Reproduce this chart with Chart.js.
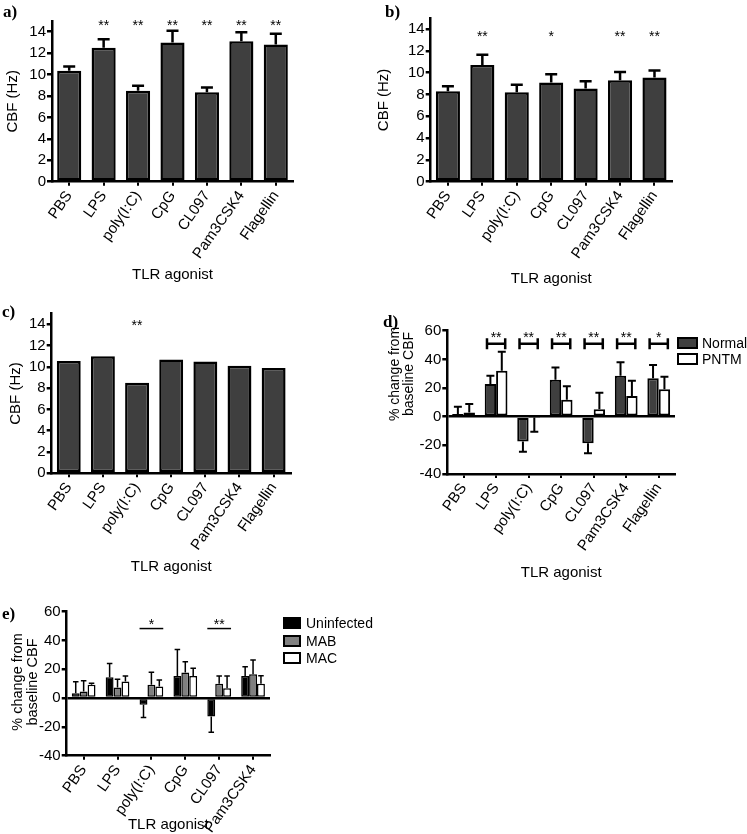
<!DOCTYPE html>
<html>
<head>
<meta charset="utf-8">
<script src="https://cdn.jsdelivr.net/npm/chart.js@4.4.0/dist/chart.umd.min.js"></script>
<style>
body{margin:0;background:#fff;}
#page{position:relative;width:747px;height:834px;overflow:hidden;background:#fff;font-family:'Liberation Sans',Arial,sans-serif;color:#000}
canvas{position:absolute}
.tag{position:absolute;font-family:'Liberation Serif','Times New Roman',serif;font-weight:bold;font-size:17px;line-height:17px}
.ytitle{position:absolute;transform:translate(-50%,-50%) rotate(-90deg);white-space:nowrap;text-align:center;font-size:14px}
.key{position:absolute;box-sizing:border-box;border:2px solid #000}
.keytxt{position:absolute;font-size:14px;line-height:14px;transform:translateY(-50%)}
</style>
</head>
<body>
<div id="page">
  <canvas id="chartA" width="370" height="290" style="left:0;top:0"></canvas>
  <canvas id="chartB" width="377" height="300" style="left:370px;top:0"></canvas>
  <canvas id="chartC" width="370" height="300" style="left:0;top:290px"></canvas>
  <canvas id="chartD" width="377" height="300" style="left:370px;top:290px"></canvas>
  <canvas id="chartE" width="300" height="260" style="left:0;top:580px"></canvas>

  <div class="tag" style="left:3px;top:3px">a)</div>
  <div class="tag" style="left:385px;top:3px">b)</div>
  <div class="tag" style="left:2px;top:303px">c)</div>
  <div class="tag" style="left:383px;top:313px">d)</div>
  <div class="tag" style="left:2px;top:605px">e)</div>

  <div class="ytitle" style="left:401px;top:374px;line-height:13.5px">% change from<br>baseline CBF</div>
  <div class="ytitle" style="left:25px;top:682px;line-height:15px;font-size:14.5px">% change from<br>baseline CBF</div>

  <!-- legende d -->
  <div class="key" style="left:677px;top:337px;width:21px;height:12px;background:#3f3f3f"></div>
  <div class="keytxt" style="left:702px;top:343px">Normal</div>
  <div class="key" style="left:677px;top:353px;width:21px;height:12px;background:#fff"></div>
  <div class="keytxt" style="left:702px;top:359px">PNTM</div>

  <!-- legende e -->
  <div class="key" style="left:283px;top:617px;width:18px;height:12px;background:#000"></div>
  <div class="keytxt" style="left:306px;top:623px">Uninfected</div>
  <div class="key" style="left:283px;top:635px;width:18px;height:12px;background:#808080"></div>
  <div class="keytxt" style="left:306px;top:641px">MAB</div>
  <div class="key" style="left:283px;top:652px;width:18px;height:12px;background:#fff"></div>
  <div class="keytxt" style="left:306px;top:658px">MAC</div>
</div>
<script>
// dados
const agonists = ['PBS','LPS','poly(I:C)','CpG','CL097','Pam3CSK4','Flagellin'];
const agonistsE = ['PBS','LPS','poly(I:C)','CpG','CL097','Pam3CSK4'];

const cbfA = [10.35, 12.5, 8.5, 13.0, 8.35, 13.1, 12.8];
const errA = [0.4, 0.8, 0.45, 1.1, 0.45, 0.85, 1.0];
const sigA = ['', '**', '**', '**', '**', '**', '**'];

const cbfB = [8.3, 10.7, 8.2, 9.1, 8.55, 9.3, 9.55];
const errB = [0.45, 0.95, 0.7, 0.75, 0.65, 0.75, 0.65];
const sigB = ['', '**', '', '*', '', '**', '**'];

const cbfC = [10.55, 11.0, 8.5, 10.7, 10.5, 10.1, 9.9];
const sigC = ['', '', '**', '', '', '', ''];

const normalD = [1.9, 22.8, -17.4, 25.7, -18.6, 28.6, 26.8];
const normalErrD = [5.1, 5.8, 7.0, 8.7, 7.0, 9.4, 9.3];
const pntmD = [3.0, 32.0, -0.5, 11.9, 5.1, 14.4, 19.1];
const pntmErrD = [5.8, 13.3, 10.0, 9.3, 11.6, 10.7, 8.8];
const sigD = ['', '**', '**', '**', '**', '**', '*'];

const uninfE = [3.4, 14.5, -4.6, 15.4, -12.7, 15.4];
const uninfErrE = [8.0, 9.6, 8.8, 18.4, 11.0, 6.4];
const mabE = [4.6, 7.3, 9.2, 17.7, 9.9, 16.6];
const mabErrE = [7.5, 5.8, 8.7, 7.6, 5.5, 9.8];
const macE = [9.2, 11.5, 8.0, 15.4, 6.9, 10.0];
const macErrE = [1.1, 3.9, 4.6, 5.3, 8.5, 5.5];
const sigE = ['', '', '*', '', '**', ''];

const FONT = "'Liberation Sans', Arial, Helvetica, sans-serif";
Chart.defaults.font.family = FONT;
Chart.defaults.color = '#000';

// barras de erro (só para cima, ou para baixo se o valor for negativo)
const errorBars = {
  id: 'errorBars',
  afterDatasetsDraw(chart){
    const ctx = chart.ctx, y = chart.scales.y;
    chart.data.datasets.forEach((ds, di) => {
      if(!ds.errors) return;
      const meta = chart.getDatasetMeta(di);
      meta.data.forEach((bar, i) => {
        const v = ds.data[i], e = ds.errors[i];
        if(!e) return;
        const y0 = y.getPixelForValue(v);
        const y1 = y.getPixelForValue(v < 0 ? v - e : v + e);
        const half = Math.min(6, bar.width * 0.35);
        ctx.save();
        ctx.strokeStyle = '#000';
        ctx.lineWidth = ds.errorWidth || 2.5;
        ctx.beginPath();
        ctx.moveTo(bar.x, y0); ctx.lineTo(bar.x, y1);
        ctx.moveTo(bar.x - half, y1); ctx.lineTo(bar.x + half, y1);
        ctx.stroke();
        ctx.restore();
      });
    });
  }
};

// asteriscos + colchetes/linhas
const sigMarks = {
  id: 'sig',
  afterDatasetsDraw(chart, args, opts){
    if(!opts.labels) return;
    const ctx = chart.ctx, y = chart.scales.y;
    const first = chart.getDatasetMeta(0);
    const last = chart.getDatasetMeta(chart.data.datasets.length - 1);
    opts.labels.forEach((txt, i) => {
      if(!txt) return;
      const a = first.data[i], b = last.data[i];
      const x = (a.x + b.x) / 2;
      ctx.save();
      ctx.fillStyle = '#000';
      ctx.font = '14px ' + FONT;
      ctx.textAlign = 'center';
      ctx.textBaseline = 'middle';
      ctx.fillText(txt, x, y.getPixelForValue(opts.level));
      if(opts.mark){
        const k = opts.mark === 'bracket' ? 0.3 : 0.5;
        const x0 = a.x - a.width * k, x1 = b.x + b.width * k;
        const ly = y.getPixelForValue(opts.markLevel);
        ctx.strokeStyle = '#000';
        ctx.lineWidth = opts.mark === 'bracket' ? 2.5 : 1.5;
        ctx.beginPath();
        ctx.moveTo(x0, ly); ctx.lineTo(x1, ly);
        if(opts.mark === 'bracket'){
          ctx.moveTo(x0, ly - 5.5); ctx.lineTo(x0, ly + 5.5);
          ctx.moveTo(x1, ly - 5.5); ctx.lineTo(x1, ly + 5.5);
        }
        ctx.stroke();
      }
      ctx.restore();
    });
  }
};

function makePanel(id, p){
  const yGrid = p.zeroLine
    ? {drawOnChartArea:true, color:c => (c.tick && c.tick.value === 0) ? '#000' : 'rgba(0,0,0,0)', tickColor:'#000', lineWidth:2.5, tickLength:5}
    : {drawOnChartArea:false, color:'#000', lineWidth:2.5, tickLength:5};
  return new Chart(document.getElementById(id), {
    type:'bar',
    data:{labels:p.labels, datasets:p.datasets},
    options:{
      responsive:false,
      animation:false,
      layout:{padding:p.padding},
      datasets:{bar:{categoryPercentage:0.7, barPercentage:1.0, borderColor:'#000', borderWidth:p.barBorder || 2.5, borderSkipped:false}},
      plugins:{legend:{display:false}, tooltip:{enabled:false}, sig:p.sig},
      scales:{
        x:{
          afterFit:s => { s.height = p.xHeight; },
          border:{color:'#000', width:2.5},
          grid:{drawOnChartArea:false, offset:false, color:'#000', lineWidth:2, tickLength:4},
          ticks:{autoSkip:false, minRotation:55, maxRotation:55, padding:2, font:{size:15}},
          title:{display:true, text:'TLR agonist', font:{size:15}, padding:{top:4, bottom:4}}
        },
        y:{
          min:p.yMin, max:p.yMax,
          afterFit:s => { s.width = p.yWidth; },
          border:{color:'#000', width:2.5},
          grid:yGrid,
          ticks:{stepSize:p.yStep, includeBounds:false, padding:1, font:{size:15}},
          title:p.yTitle ? {display:true, text:p.yTitle, font:{size:15}, padding:{top:4, bottom:4}} : {display:false}
        }
      }
    },
    plugins:[errorBars, sigMarks]
  });
}

const dark = '#3f3f3f';

makePanel('chartA', {
  labels:agonists,
  datasets:[{data:cbfA, errors:errA, backgroundColor:dark}],
  yMin:0, yMax:15, yStep:2, yWidth:52, xHeight:106.3, yTitle:'CBF (Hz)',
  padding:{left:0, top:21, right:77, bottom:2},
  sig:{labels:sigA, level:14.5}
});

makePanel('chartB', {
  labels:agonists,
  datasets:[{data:cbfB, errors:errB, backgroundColor:dark}],
  yMin:0, yMax:15, yStep:2, yWidth:59.7, xHeight:110.3, yTitle:'CBF (Hz)',
  padding:{left:1, top:18.1, right:75.3, bottom:8},
  sig:{labels:sigB, level:13.3}
});

makePanel('chartC', {
  labels:agonists,
  datasets:[{data:cbfC, backgroundColor:dark}],
  yMin:0, yMax:15, yStep:2, yWidth:48.7, xHeight:106.7, yTitle:'CBF (Hz)',
  padding:{left:3, top:23.7, right:79.3, bottom:10},
  sig:{labels:sigC, level:13.8}
});

makePanel('chartD', {
  labels:agonists,
  datasets:[
    {label:'Normal', data:normalD, errors:normalErrD, backgroundColor:dark, errorWidth:2},
    {label:'PNTM', data:pntmD, errors:pntmErrD, backgroundColor:'#fff', errorWidth:2}
  ],
  yMin:-40, yMax:60, yStep:20, yWidth:77.3, xHeight:112, zeroLine:true, barBorder:2,
  padding:{left:0, top:40.7, right:72, bottom:4},
  sig:{labels:sigD, level:54.9, mark:'bracket', markLevel:50.9}
});

makePanel('chartE', {
  labels:agonistsE,
  datasets:[
    {label:'Uninfected', data:uninfE, errors:uninfErrE, backgroundColor:'#000', errorWidth:1.5},
    {label:'MAB', data:mabE, errors:mabErrE, backgroundColor:'#808080', errorWidth:1.5},
    {label:'MAC', data:macE, errors:macErrE, backgroundColor:'#fff', errorWidth:1.5}
  ],
  yMin:-40, yMax:60, yStep:20, yWidth:66.7, xHeight:82.3, zeroLine:true, barBorder:1.5,
  padding:{left:0, top:31.7, right:30, bottom:2},
  sig:{labels:sigE, level:50.5, mark:'line', markLevel:48.3}
});
</script>
</body>
</html>
